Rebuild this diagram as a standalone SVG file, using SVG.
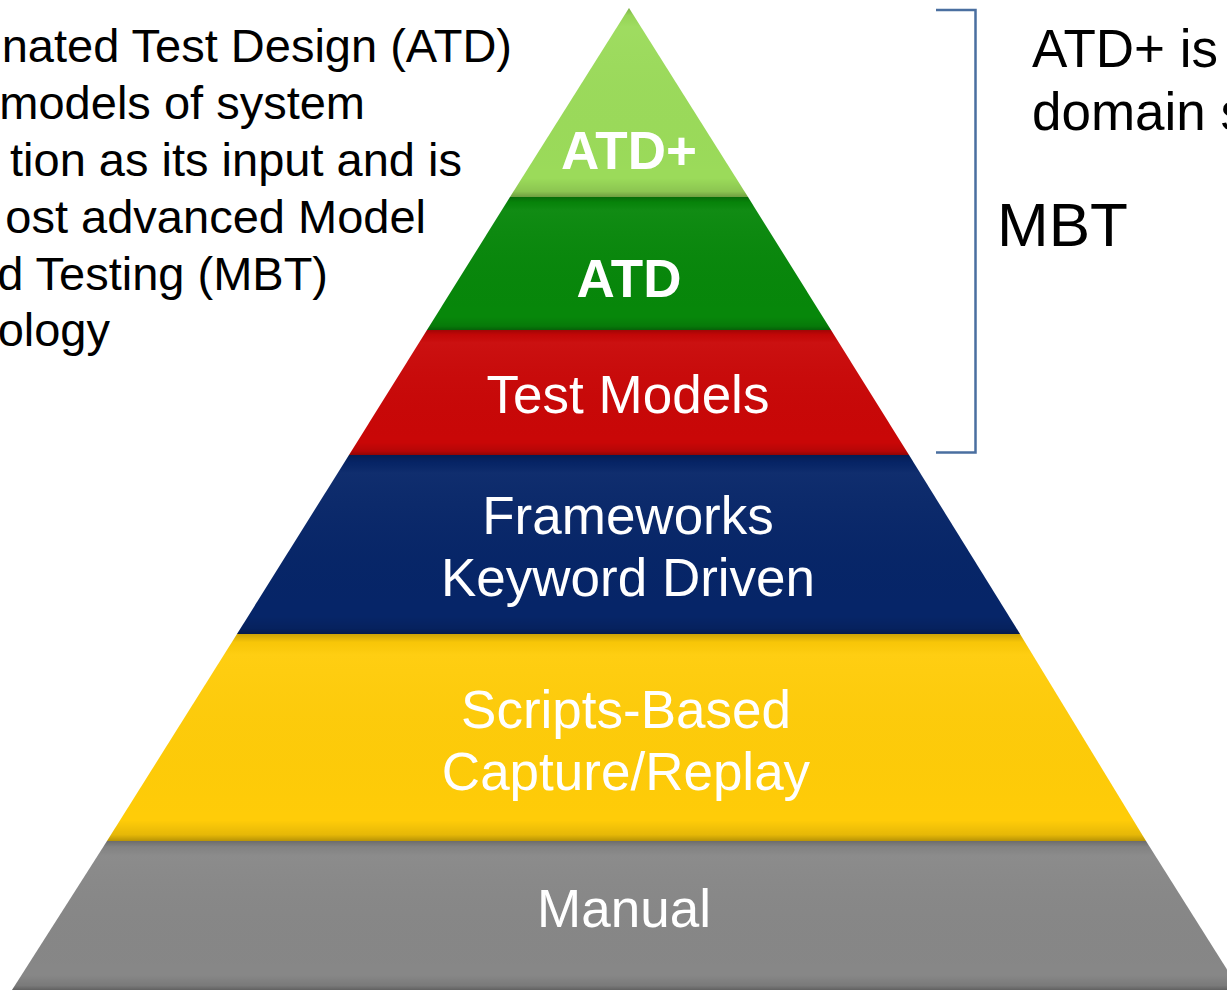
<svg xmlns="http://www.w3.org/2000/svg" width="1227" height="990" viewBox="0 0 1227 990">
  <style>
    .note { font-family: "Liberation Sans", Arial, sans-serif; fill: #000; }
    .lbl { font-family: "Liberation Sans", Arial, sans-serif; fill: #fff; text-anchor: middle; font-size: 53px; }
    .bold { font-weight: bold; font-size: 53px; }
    .bevel { fill: url(#bevel); }
  </style>
  <defs>
    <linearGradient id="bevel" x1="0" y1="0" x2="0" y2="1">
      <stop offset="0" stop-color="#000" stop-opacity="0.2"/>
      <stop offset="0.04" stop-color="#000" stop-opacity="0.03"/>
      <stop offset="0.1" stop-color="#fff" stop-opacity="0.04"/>
      <stop offset="0.9" stop-color="#000" stop-opacity="0"/>
      <stop offset="0.97" stop-color="#000" stop-opacity="0.1"/>
      <stop offset="1" stop-color="#000" stop-opacity="0.28"/>
    </linearGradient>
  </defs>

  <rect width="1227" height="990" fill="#ffffff"/>

  <g id="left-note" class="note" font-size="47" text-anchor="end">
    <text x="512" y="62">nated Test Design (ATD)</text>
    <text x="365" y="119">models of system</text>
    <text x="462" y="176">tion as its input and is</text>
    <text x="426" y="233">ost advanced Model</text>
    <text x="328" y="290">d Testing (MBT)</text>
    <text x="110" y="346">ology</text>
  </g>

  <g id="right-note" class="note" font-size="53">
    <text x="1032" y="67">ATD+ is</text>
    <text x="1032" y="130">domain s</text>
  </g>

  <g id="mbt-label" class="note">
    <text x="997" y="246" font-size="62">MBT</text>
  </g>

  <g id="connectors">
    <path d="M936,10 H975.5 V452.5 H936" fill="none" stroke="#4A6FA0" stroke-width="2.5"/>
  </g>

  <g id="manual">
    <polygon points="107,841 1146,841 1240,990 12,990" fill="#878787"/>
    <polygon points="107,841 1146,841 1240,990 12,990" class="bevel"/>
    <text class="lbl" x="624" y="927">Manual</text>
  </g>

  <g id="scripts">
    <polygon points="237,634 1020,634 1146,841 107,841" fill="#FFCC08"/>
    <polygon points="237,634 1020,634 1146,841 107,841" class="bevel"/>
    <text class="lbl" x="626" y="728">Scripts-Based</text>
    <text class="lbl" x="626" y="790">Capture/Replay</text>
  </g>

  <g id="frameworks">
    <polygon points="349,455 909,455 1020,634 237,634" fill="#062568"/>
    <polygon points="349,455 909,455 1020,634 237,634" class="bevel"/>
    <text class="lbl" x="628" y="534">Frameworks</text>
    <text class="lbl" x="628" y="596">Keyword Driven</text>
  </g>

  <g id="test-models">
    <polygon points="427,330 831,330 909,455 349,455" fill="#C90707"/>
    <polygon points="427,330 831,330 909,455 349,455" class="bevel"/>
    <text class="lbl" x="628" y="413">Test Models</text>
  </g>

  <g id="atd">
    <polygon points="510,197 748,197 831,330 427,330" fill="#07870A"/>
    <polygon points="510,197 748,197 831,330 427,330" class="bevel"/>
    <text class="lbl bold" x="629" y="297">ATD</text>
  </g>

  <g id="atd-plus">
    <polygon points="629,8 748,197 510,197" fill="#9BDB5A"/>
    <polygon points="629,8 748,197 510,197" class="bevel"/>
    <text class="lbl bold" x="629" y="169">ATD+</text>
  </g>
</svg>
